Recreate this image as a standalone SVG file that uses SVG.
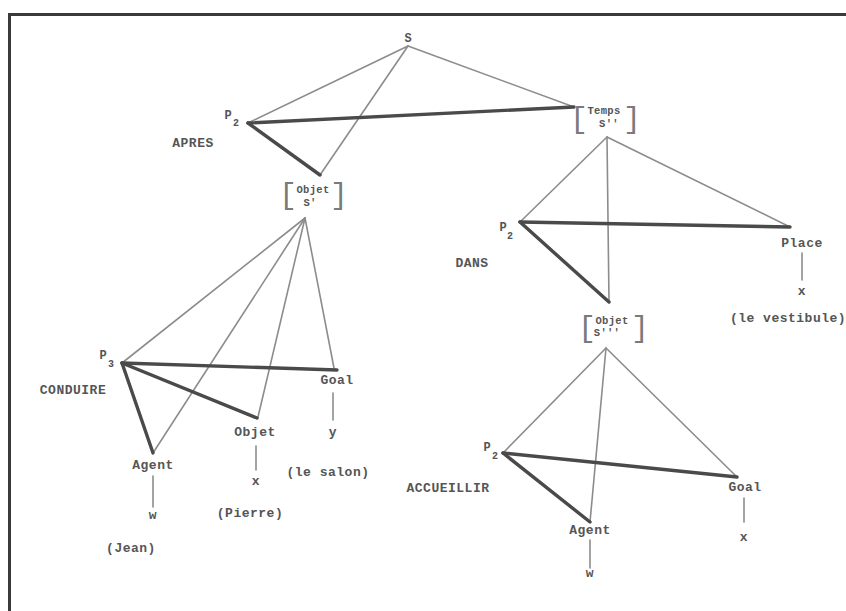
<svg xmlns="http://www.w3.org/2000/svg" width="846" height="611" viewBox="0 0 846 611">
<style>
text{font-family:"Liberation Mono","DejaVu Sans Mono",monospace;fill:#555555;font-weight:bold;text-anchor:middle}
.lb{font-size:13px;letter-spacing:0.5px}
.sm{font-size:10.5px;letter-spacing:0.3px}
.br{font-size:30px;font-weight:normal;fill:#7a7a7a}
.p{font-size:12px}
.sub{font-size:10px}
.thin{stroke:#8c8c8c;stroke-width:1.6;fill:none;stroke-linecap:round}
.thick{stroke:#4a4a4a;stroke-width:3.4;fill:none;stroke-linecap:round}
.frame{stroke:#3a3a3a;stroke-width:3;fill:none}
</style>
<rect width="846" height="611" fill="#ffffff"/>
<g id="frame">
<line class="frame" x1="8" y1="14.5" x2="846" y2="14.5"/>
<line class="frame" x1="9.5" y1="13" x2="9.5" y2="611"/>
</g>
<g id="connectors">
<line class="thin" x1="408" y1="46" x2="248" y2="123"/>
<line class="thin" x1="408" y1="46" x2="320" y2="175"/>
<line class="thin" x1="408" y1="46" x2="574" y2="107"/>
<line class="thin" x1="305" y1="218" x2="122" y2="363"/>
<line class="thin" x1="305" y1="218" x2="153" y2="453"/>
<line class="thin" x1="305" y1="218" x2="258" y2="417"/>
<line class="thin" x1="305" y1="218" x2="334" y2="368"/>
<line class="thin" x1="607" y1="137" x2="520" y2="222"/>
<line class="thin" x1="607" y1="137" x2="790" y2="227"/>
<line class="thin" x1="607" y1="137" x2="609" y2="302"/>
<line class="thin" x1="606" y1="348" x2="503" y2="453"/>
<line class="thin" x1="606" y1="348" x2="737" y2="477"/>
<line class="thin" x1="606" y1="348" x2="590" y2="522"/>
<line class="thin" x1="333" y1="393" x2="333" y2="420"/>
<line class="thin" x1="256" y1="446" x2="256" y2="470"/>
<line class="thin" x1="153" y1="476" x2="153" y2="507"/>
<line class="thin" x1="802" y1="253" x2="802" y2="280"/>
<line class="thin" x1="744" y1="498" x2="744" y2="522"/>
<line class="thin" x1="590" y1="540" x2="590" y2="568"/>
<line class="thick" x1="248" y1="123" x2="574" y2="107"/>
<line class="thick" x1="248" y1="123" x2="320" y2="175"/>
<line class="thick" x1="122" y1="363" x2="337" y2="370"/>
<line class="thick" x1="122" y1="363" x2="257" y2="418"/>
<line class="thick" x1="122" y1="363" x2="153" y2="453"/>
<line class="thick" x1="520" y1="222" x2="790" y2="227"/>
<line class="thick" x1="520" y1="222" x2="609" y2="302"/>
<line class="thick" x1="503" y1="453" x2="737" y2="477"/>
<line class="thick" x1="503" y1="453" x2="590" y2="522"/>
</g>
<g id="S"><text class="p" x="408" y="42">S</text></g>
<g id="P2-apres">
<text class="p" x="228" y="119">P</text><text class="sub" x="236" y="126">2</text>
<text class="lb" x="193" y="147">APRES</text>
</g>
<g id="objet-s1">
<text class="br" x="288" y="204">[</text>
<text class="sm" x="313" y="193">Objet</text>
<text class="sm" x="310" y="206">S'</text>
<text class="br" x="339" y="204">]</text>
</g>
<g id="temps-s2">
<text class="br" x="579" y="128">[</text>
<text class="sm" x="604" y="114">Temps</text>
<text class="sm" x="609" y="127">S''</text>
<text class="br" x="632" y="128">]</text>
</g>
<g id="P2-dans">
<text class="p" x="503" y="231">P</text><text class="sub" x="510" y="239">2</text>
<text class="lb" x="472" y="267">DANS</text>
</g>
<g id="place">
<text class="lb" x="802" y="247">Place</text>
<text class="lb" x="802" y="295">x</text>
<text class="lb" x="788" y="322">(le vestibule)</text>
</g>
<g id="objet-s3">
<text class="br" x="587" y="337">[</text>
<text class="sm" x="612" y="324">Objet</text>
<text class="sm" x="607" y="336">S'''</text>
<text class="br" x="640" y="337">]</text>
</g>
<g id="P3-conduire">
<text class="p" x="103" y="359">P</text><text class="sub" x="111" y="367">3</text>
<text class="lb" x="73" y="394">CONDUIRE</text>
</g>
<g id="goal-left">
<text class="lb" x="337" y="384">Goal</text>
<text class="lb" x="333" y="436">y</text>
<text class="lb" x="328" y="476">(le salon)</text>
</g>
<g id="objet-left">
<text class="lb" x="255" y="436">Objet</text>
<text class="lb" x="256" y="485">x</text>
<text class="lb" x="250" y="517">(Pierre)</text>
</g>
<g id="agent-left">
<text class="lb" x="153" y="469">Agent</text>
<text class="lb" x="153" y="519">w</text>
<text class="lb" x="131" y="552">(Jean)</text>
</g>
<g id="P2-accueillir">
<text class="p" x="487" y="451">P</text><text class="sub" x="495" y="459">2</text>
<text class="lb" x="448" y="492">ACCUEILLIR</text>
</g>
<g id="goal-right">
<text class="lb" x="745" y="491">Goal</text>
<text class="lb" x="744" y="541">x</text>
</g>
<g id="agent-right">
<text class="lb" x="590" y="534">Agent</text>
<text class="lb" x="590" y="577">w</text>
</g>
</svg>
